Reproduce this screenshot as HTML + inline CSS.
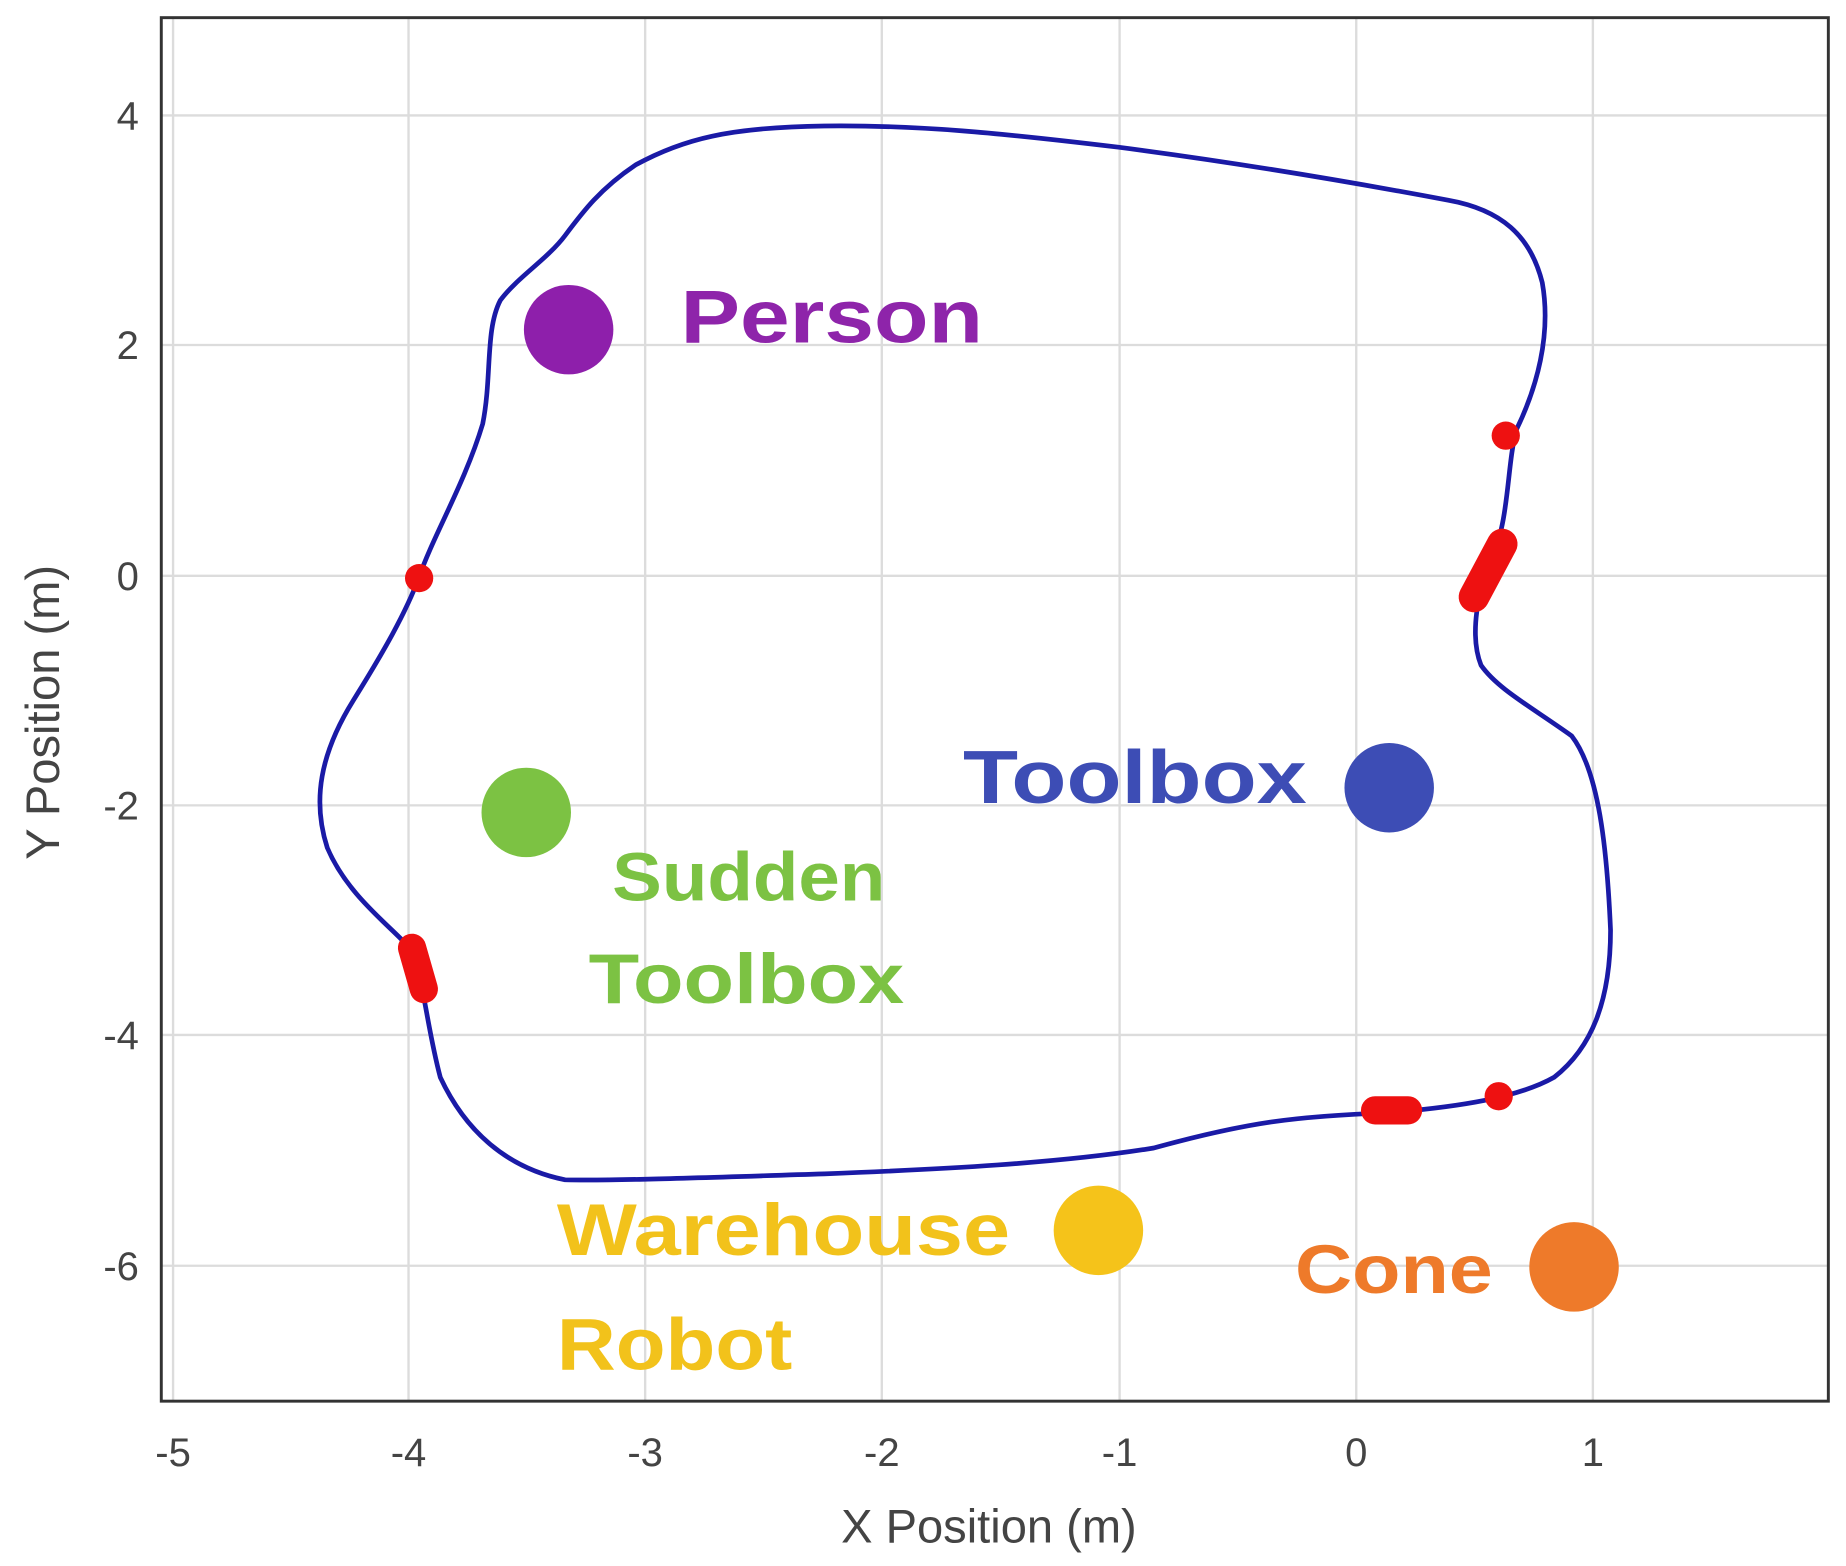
<!DOCTYPE html>
<html><head><meta charset="utf-8"><style>
html,body{margin:0;padding:0;background:#fff;}
svg{display:block;}
</style></head><body>
<svg width="1846" height="1566" viewBox="0 0 1568 1330" preserveAspectRatio="none" xmlns="http://www.w3.org/2000/svg">
<rect width="1568" height="1330" fill="#fff"/>
<g stroke="#dcdcdc" stroke-width="2">
<line x1="147" y1="15" x2="147" y2="1190"/><line x1="347" y1="15" x2="347" y2="1190"/>
<line x1="548" y1="15" x2="548" y2="1190"/><line x1="749" y1="15" x2="749" y2="1190"/>
<line x1="951" y1="15" x2="951" y2="1190"/><line x1="1152" y1="15" x2="1152" y2="1190"/>
<line x1="1353" y1="15" x2="1353" y2="1190"/>
<line x1="137" y1="98" x2="1553" y2="98"/><line x1="137" y1="293" x2="1553" y2="293"/>
<line x1="137" y1="489" x2="1553" y2="489"/><line x1="137" y1="684" x2="1553" y2="684"/>
<line x1="137" y1="879" x2="1553" y2="879"/><line x1="137" y1="1075" x2="1553" y2="1075"/>
</g>
<rect x="137" y="15" width="1416" height="1175" fill="none" stroke="#333" stroke-width="2.5"/>
<g font-family="Liberation Sans, sans-serif" font-size="34" fill="#444" text-anchor="middle">
<text x="147" y="1245">-5</text><text x="347" y="1245">-4</text><text x="548" y="1245">-3</text>
<text x="749" y="1245">-2</text><text x="951" y="1245">-1</text><text x="1152" y="1245">0</text>
<text x="1353" y="1245">1</text>
<text x="840" y="1310" font-size="40">X Position (m)</text>
</g>
<g font-family="Liberation Sans, sans-serif" font-size="34" fill="#444" text-anchor="end">
<text x="118" y="110">4</text><text x="118" y="305">2</text><text x="118" y="501">0</text>
<text x="118" y="696">-2</text><text x="118" y="891">-4</text><text x="118" y="1087">-6</text>
</g>
<text transform="translate(50,605) rotate(-90)" font-family="Liberation Sans, sans-serif" font-size="40" fill="#444" text-anchor="middle">Y Position (m)</text>
<path fill="none" stroke="#1a1aa6" stroke-width="4" stroke-linejoin="round" d="M480,200 C495,180 510,160 540,140 C580,118 620,108 700,107 C780,106 850,113 950,125 C1050,138 1150,155 1230,170 C1275,178 1300,200 1310,240 C1318,285 1305,330 1288,365 C1280,395 1282,440 1268,472 C1255,500 1248,540 1258,565 C1272,585 1300,600 1335,625 C1358,655 1365,720 1368,790 C1368,850 1352,890 1320,915 C1290,932 1240,940 1180,945 C1100,948 1060,953 980,975 C900,988 800,993 700,997 C600,1000 520,1003 480,1002 C430,992 395,960 374,915 C362,870 360,830 348,805 C330,785 295,760 278,720 C265,680 272,640 300,595 C325,555 345,520 356,490 C368,455 395,410 410,360 C418,320 412,280 425,255 C440,235 465,220 480,200 Z"/>
<g fill="#ee1111">
<circle cx="356" cy="491" r="12"/>
<circle cx="1279" cy="370" r="12"/>
<line x1="1252" y1="507" x2="1276" y2="462" stroke="#ee1111" stroke-width="26" stroke-linecap="round"/>
<line x1="350" y1="805" x2="360" y2="840" stroke="#ee1111" stroke-width="24" stroke-linecap="round"/>
<line x1="1168" y1="943" x2="1196" y2="943" stroke="#ee1111" stroke-width="24" stroke-linecap="round"/>
<circle cx="1273" cy="931" r="12"/>
</g>
<g font-family="Liberation Sans, sans-serif" font-weight="bold" font-size="64">
<circle cx="483" cy="280" r="38" fill="#8e1fab"/>
<text x="578" y="291" fill="#8e24aa" textLength="257" lengthAdjust="spacingAndGlyphs">Person</text>
<circle cx="447" cy="690" r="38" fill="#7cc243"/>
<text x="520" y="765" fill="#7cc243" font-size="58" textLength="232" lengthAdjust="spacingAndGlyphs">Sudden</text>
<text x="500" y="852" fill="#7cc243" font-size="60" textLength="268" lengthAdjust="spacingAndGlyphs">Toolbox</text>
<circle cx="1180" cy="669" r="38" fill="#3d4db5"/>
<text x="818" y="682" fill="#3d4db5" textLength="292" lengthAdjust="spacingAndGlyphs">Toolbox</text>
<circle cx="933" cy="1045" r="38" fill="#f5c31a"/>
<text x="473" y="1066" fill="#f2c21b" font-size="62" textLength="385" lengthAdjust="spacingAndGlyphs">Warehouse</text>
<text x="473" y="1163" fill="#f2c21b" font-size="62" textLength="200" lengthAdjust="spacingAndGlyphs">Robot</text>
<circle cx="1337" cy="1076" r="38" fill="#ee7a2a"/>
<text x="1100" y="1098" fill="#ee7a2a" font-size="58" textLength="168" lengthAdjust="spacingAndGlyphs">Cone</text>
</g>
</svg>
</body></html>
